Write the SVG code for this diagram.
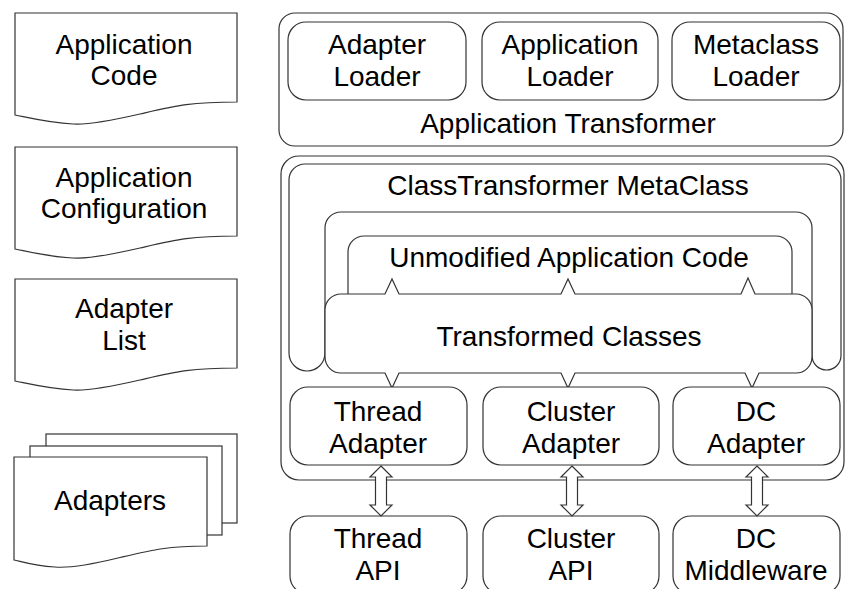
<svg xmlns="http://www.w3.org/2000/svg" width="845" height="589" viewBox="0 0 845 589">
  <style>
    .shape { fill: #ffffff; stroke: #333333; stroke-width: 1.2; }
    .label { font-family: "Liberation Sans", Arial, sans-serif; font-size: 28px; fill: #000000; text-anchor: middle; }
  </style>
  <defs>
    <!-- document symbol with wavy bottom edge, origin at top-left, 222 wide -->
    <path id="doc" d="M0,0 H222 V89 C175,89 160,93 125,101 C90,109 70,112 58,111 C35,110 15,105 0,102 Z"/>
    <!-- two-way block arrow between an adapter and the API below -->
    <path id="dblArrow" d="M0,0 L11,11 H5.5 V39 H11 L0,50 L-11,39 H-5.5 V11 H-11 Z"/>
  </defs>

  <rect width="845" height="589" fill="#ffffff"/>

  <!-- input documents -->
  <g id="doc-application-code">
    <use href="#doc" x="15" y="13" class="shape"/>
    <text class="label" x="124" y="54">Application</text>
    <text class="label" x="124" y="85">Code</text>
  </g>
  <g id="doc-application-configuration">
    <use href="#doc" x="15" y="147" class="shape"/>
    <text class="label" x="124" y="187">Application</text>
    <text class="label" x="124" y="218">Configuration</text>
  </g>
  <g id="doc-adapter-list">
    <use href="#doc" x="15" y="279" class="shape"/>
    <text class="label" x="124" y="318">Adapter</text>
    <text class="label" x="124" y="350">List</text>
  </g>
  <g id="doc-adapters">
    <rect x="46" y="434" width="191" height="89" class="shape"/>
    <rect x="30" y="446" width="192" height="89" class="shape"/>
    <path d="M14,457 H207 V546 C167,546 152,550 118,558 C85,566 66,568 55,567 C33,566 20,561 14,560 Z" class="shape"/>
    <text class="label" x="110" y="510">Adapters</text>
  </g>

  <!-- application transformer and its loaders -->
  <g id="application-transformer">
    <rect x="279" y="13" width="564" height="133" rx="16" class="shape"/>
    <text class="label" x="568" y="133">Application Transformer</text>
  </g>
  <g id="adapter-loader">
    <rect x="288" y="22" width="178" height="78" rx="18" class="shape"/>
    <text class="label" x="377" y="54">Adapter</text>
    <text class="label" x="377" y="86">Loader</text>
  </g>
  <g id="application-loader">
    <rect x="482" y="22" width="176" height="78" rx="18" class="shape"/>
    <text class="label" x="570" y="54">Application</text>
    <text class="label" x="570" y="86">Loader</text>
  </g>
  <g id="metaclass-loader">
    <rect x="672" y="22" width="168" height="78" rx="18" class="shape"/>
    <text class="label" x="756" y="54">Metaclass</text>
    <text class="label" x="756" y="86">Loader</text>
  </g>

  <!-- runtime container -->
  <g id="runtime">
    <rect x="281" y="156" width="563" height="324" rx="18" class="shape"/>
  </g>
  <g id="classtransformer-metaclass">
    <path class="shape" d="M289,180 A16,16 0 0 1 305,164 H825 A16,16 0 0 1 841,180 V355.5 A14.5,14.5 0 0 1 812,355.5 V228 A16,16 0 0 0 796,212 H341 A16,16 0 0 0 325,228 V353 A18,18 0 0 1 289,353 Z"/>
    <text class="label" x="568" y="195">ClassTransformer MetaClass</text>
  </g>
  <g id="unmodified-application-code">
    <rect x="348" y="236" width="444" height="80" rx="16" class="shape"/>
    <text class="label" x="569" y="267">Unmodified Application Code</text>
  </g>
  <g id="transformed-classes">
    <path class="shape" d="M341,294 H385 L392,279 L399,294 H561 L568,279 L575,294 H741 L748,278 L755,294 H796 A16,16 0 0 1 812,310 V357 A16,16 0 0 1 796,373 H759 L752,388 L745,373 H575 L568,388 L561,373 H399 L392,388 L385,373 H341 A16,16 0 0 1 325,357 V310 A16,16 0 0 1 341,294 Z"/>
    <text class="label" x="569" y="346">Transformed Classes</text>
  </g>

  <!-- adapters -->
  <g id="thread-adapter">
    <rect x="290" y="387" width="177" height="78" rx="18" class="shape"/>
    <text class="label" x="378" y="421">Thread</text>
    <text class="label" x="378" y="453">Adapter</text>
  </g>
  <g id="cluster-adapter">
    <rect x="483" y="387" width="176" height="78" rx="18" class="shape"/>
    <text class="label" x="571" y="421">Cluster</text>
    <text class="label" x="571" y="453">Adapter</text>
  </g>
  <g id="dc-adapter">
    <rect x="673" y="387" width="167" height="78" rx="18" class="shape"/>
    <text class="label" x="756" y="421">DC</text>
    <text class="label" x="756" y="453">Adapter</text>
  </g>

  <!-- underlying APIs -->
  <g id="thread-api">
    <rect x="290" y="516" width="177" height="78" rx="18" class="shape"/>
    <text class="label" x="378" y="548">Thread</text>
    <text class="label" x="378" y="580">API</text>
  </g>
  <g id="cluster-api">
    <rect x="483" y="516" width="176" height="78" rx="18" class="shape"/>
    <text class="label" x="571" y="548">Cluster</text>
    <text class="label" x="571" y="580">API</text>
  </g>
  <g id="dc-middleware">
    <rect x="673" y="516" width="167" height="78" rx="18" class="shape"/>
    <text class="label" x="756" y="548">DC</text>
    <text class="label" x="756" y="580">Middleware</text>
  </g>

  <!-- connectors -->
  <g id="connectors">
    <use href="#dblArrow" x="381" y="466" class="shape"/>
    <use href="#dblArrow" x="572" y="466" class="shape"/>
    <use href="#dblArrow" x="757" y="466" class="shape"/>
  </g>
</svg>
